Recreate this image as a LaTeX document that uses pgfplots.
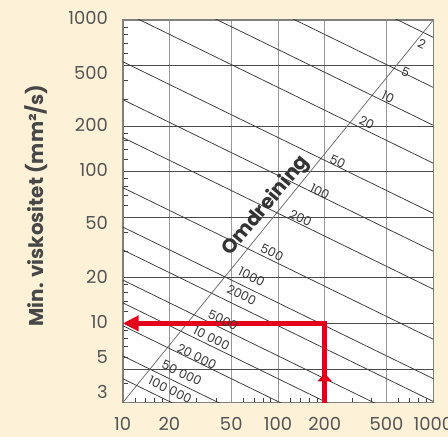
\documentclass[border=0pt]{standalone}
\usepackage{fontspec}
\setmainfont{Poppins}
\usepackage{pgfplots}
\pgfplotsset{compat=1.18}
\usetikzlibrary{arrows.meta}
\definecolor{bgcream}{HTML}{FDF1D8}
\definecolor{redarrow}{HTML}{E2001A}
\definecolor{lbl}{HTML}{555555}
\definecolor{rpmline}{HTML}{3A3A3A}
\tikzset{rpmlbl/.style={rotate=-26, font=\fontsize{12.5}{12.5}\selectfont, text=rpmline, inner sep=0pt},
  ylbl/.style={anchor=east, font=\fontsize{18}{18}\selectfont, text=lbl, inner sep=0pt}}
\begin{document}
\begin{tikzpicture}
\fill[bgcream] (-122.7bp,-34.3bp) rectangle (325.3bp,402.7bp);
\begin{axis}[
  at={(0,0)}, anchor=south west,
  scale only axis, width=310.6bp, height=382.7bp,
  xmode=log, ymode=log,
  xmin=10, xmax=1000, ymin=3, ymax=1000,
  axis background/.style={fill=white},
  axis line style={draw=black!50, line width=1.6bp},
  xtick={10,20,50,100,200,500,1000},
  xticklabels={10,20,50,100,200,500,1000},
  ytick={5,10,20,50,100,200,500},
  yticklabels={,,,,,,},
  minor xtick={12,14,16,18,30,40,60,70,80,90,120,140,160,180,300,400,600,700,800,900},
  minor ytick={4,6,7,8,9,12,14,16,18,30,40,60,70,80,90,120,140,160,180,300,400,600,700,800,900},
  major tick length=0pt, minor tick length=5bp,
  tick align=inside, tick pos=left,
  minor tick style={draw=black!75, line width=0.8bp},
  xmajorgrids, major x grid style={draw=black!40, line width=1bp},
  ymajorgrids, major y grid style={draw=black!70, line width=0.8bp},
  xticklabel style={font=\fontsize{18}{18}\selectfont, text=lbl, yshift=-11bp},
]
% Omdreining diagonal
\addplot[draw=black!55, line width=0.8bp] coordinates {(10,3) (1000,1000)};
% rpm lines
\addplot[rpmline, line width=0.75bp] coordinates {(10,7685) (1000,768.5)};
\addplot[rpmline, line width=0.75bp] coordinates {(10,3592) (1000,359.2)};
\addplot[rpmline, line width=0.75bp] coordinates {(10,2021) (1000,202.1)};
\addplot[rpmline, line width=0.75bp] coordinates {(10,1137) (1000,113.7)};
\addplot[rpmline, line width=0.75bp] coordinates {(10,531.3) (1000,53.13)};
\addplot[rpmline, line width=0.75bp] coordinates {(10,298.9) (1000,29.89)};
\addplot[rpmline, line width=0.75bp] coordinates {(10,168.1) (1000,16.81)};
\addplot[rpmline, line width=0.75bp] coordinates {(10,78.57) (1000,7.857)};
\addplot[rpmline, line width=0.75bp] coordinates {(10,43.2) (1000,4.32)};
\addplot[rpmline, line width=0.75bp] coordinates {(10,30.55) (1000,3.055)};
\addplot[rpmline, line width=0.75bp] coordinates {(10,19.32) (1000,1.932)};
\addplot[rpmline, line width=0.75bp] coordinates {(10,13.66) (1000,1.366)};
\addplot[rpmline, line width=0.75bp] coordinates {(10,9.66) (1000,0.966)};
\addplot[rpmline, line width=0.75bp] coordinates {(10,6.11) (1000,0.611)};
\addplot[rpmline, line width=0.75bp] coordinates {(10,4.32) (1000,0.432)};
% red example path
\addplot[redarrow, line width=5bp, line join=miter, -{Triangle[length=16bp,width=15bp]}] coordinates {(200,3) (200,10) (10,10)};
\addplot[redarrow, line width=5bp, -{Triangle[length=8bp,width=14bp]}] coordinates {(200,3) (200,4.69)};
% rpm labels
\node[rpmlbl] at (axis cs:845,695) {2};
\node[rpmlbl] at (axis cs:664,456) {5};
\node[rpmlbl] at (axis cs:511,311) {10};
\node[rpmlbl] at (axis cs:373,210) {20};
\node[rpmlbl] at (axis cs:242,117) {50};
\node[rpmlbl] at (axis cs:186,73.8) {100};
\node[rpmlbl] at (axis cs:140,49.5) {200};
\node[rpmlbl] at (axis cs:91.5,29.3) {500};
\node[rpmlbl] at (axis cs:67.7,20.3) {1000};
\node[rpmlbl] at (axis cs:58.4,15.4) {2000};
\node[rpmlbl] at (axis cs:44.2,10.5) {5000};
\node[rpmlbl] at (axis cs:37.4,8.0) {10 000};
\node[rpmlbl] at (axis cs:30.0,6.03) {20 000};
\node[rpmlbl] at (axis cs:24.0,4.71) {50 000};
\node[rpmlbl] at (axis cs:20.2,3.64) {100 000};
\node[rotate=50, font=\bfseries\fontsize{20}{20}\selectfont, text=black!80] at (axis cs:83.7,59.4) {Omdreining};
\end{axis}
% y tick labels, placed where the reference shows them
\node[ylbl] at (-14.7bp,384.7bp) {1000};
\node[ylbl] at (-14.7bp,330.0bp) {500};
\node[ylbl] at (-14.7bp,277.7bp) {200};
\node[ylbl] at (-14.7bp,232.7bp) {100};
\node[ylbl] at (-14.7bp,179.7bp) {50};
\node[ylbl] at (-14.7bp,125.7bp) {20};
\node[ylbl] at (-14.7bp,80.7bp) {10};
\node[ylbl] at (-14.7bp,45.7bp) {5};
\node[ylbl] at (-14.7bp,10.7bp) {3};
\node[rotate=90, font=\bfseries\fontsize{20}{20}\selectfont, text=black!72] at (-86.7bp,197.2bp) {Min. viskositet (mm²/s)};
\pgfresetboundingbox
\path[use as bounding box] (-122.7bp,-34.3bp) rectangle (325.3bp,402.7bp);
\end{tikzpicture}
\end{document}
